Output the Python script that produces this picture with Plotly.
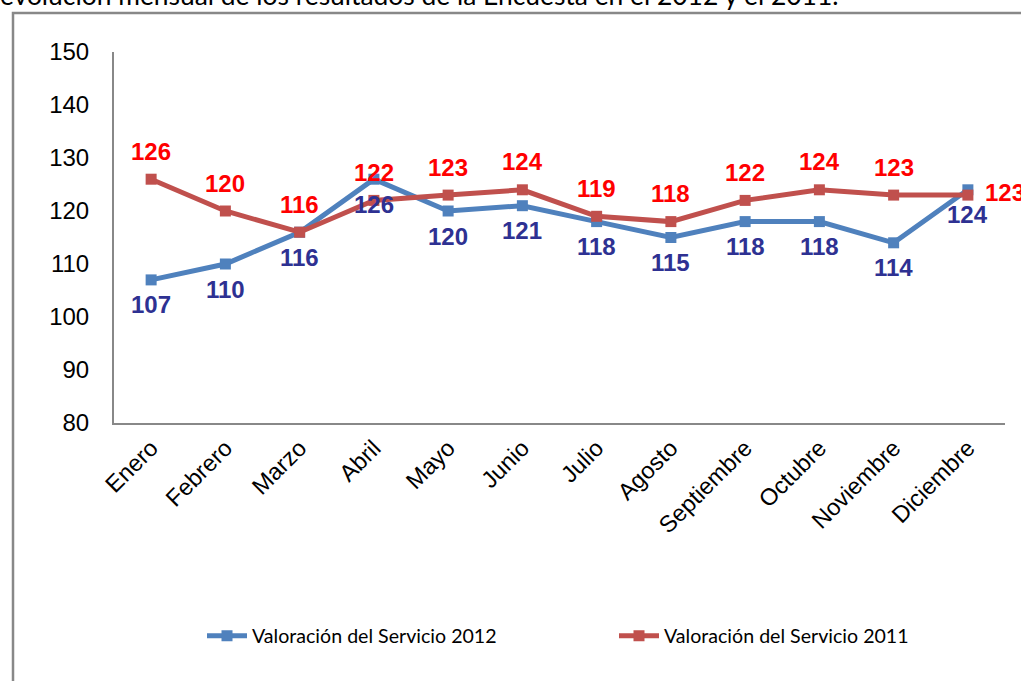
import plotly.graph_objects as go

months = ["Enero", "Febrero", "Marzo", "Abril", "Mayo", "Junio", "Julio",
          "Agosto", "Septiembre", "Octubre", "Noviembre", "Diciembre"]
serie_2012 = [107, 110, 116, 126, 120, 121, 118, 115, 118, 118, 114, 124]
serie_2011 = [126, 120, 116, 122, 123, 124, 119, 118, 122, 124, 123, 123]
name_2012 = "Valoración del Servicio 2012"
name_2011 = "Valoración del Servicio 2011"
title_text = "evolución mensual de los resultados de la Encuesta en el 2012 y el 2011."
y_ticks = [80, 90, 100, 110, 120, 130, 140, 150]

BLUE = "#4F81BD"
RED = "#C0504D"
LBL_BLUE = "#2E3192"
LBL_RED = "#FF0000"

W, H = 1021, 681
L, R, T, B = 114, 16, 52, 258
pw, ph = W - L - R, H - T - B

fig = go.Figure()
fig.add_trace(go.Scatter(x=months, y=serie_2012, name=name_2012, mode="lines+markers",
                         line=dict(color=BLUE, width=5),
                         marker=dict(symbol="square", size=11, color=BLUE)))
fig.add_trace(go.Scatter(x=months, y=serie_2011, name=name_2011, mode="lines+markers",
                         line=dict(color=RED, width=5),
                         marker=dict(symbol="square", size=11, color=RED)))

lblfont = dict(family="Arial, Liberation Sans", size=24)
annotations = []
for i, (m, v) in enumerate(zip(months, serie_2012)):
    annotations.append(dict(x=m, y=v, text=str(v), showarrow=False, yshift=-25,
                            font=dict(**lblfont, color=LBL_BLUE), xanchor="center", yanchor="middle"))
for i, (m, v) in enumerate(zip(months, serie_2011)):
    last = i == len(months) - 1
    annotations.append(dict(x=m, y=v, text=str(v), showarrow=False,
                            yshift=3 if last else 28, xshift=15 if last else 0,
                            xanchor="left" if last else "center", yanchor="middle",
                            font=dict(**lblfont, color=LBL_RED)))
for a in annotations:
    a["text"] = "<b>" + a["text"] + "</b>"

annotations.append(dict(xref="paper", yref="paper", x=(-2 - L) / pw, y=1 + (T + 5) / ph,
                        xanchor="left", yanchor="middle", showarrow=False,
                        text=title_text, font=dict(family="Lato", size=26.4, color="#000000")))

shapes = [dict(type="rect", xref="paper", yref="paper",
               x0=(13 - L) / pw, x1=(W + 40 - L) / pw,
               y0=-(H + 40 - T - ph) / ph, y1=1 + (T - 13) / ph,
               line=dict(color="#888888", width=2.5), fillcolor="rgba(0,0,0,0)", layer="below")]

fig.update_layout(
    width=W, height=H,
    margin=dict(l=L, r=R, t=T, b=B, autoexpand=False),
    paper_bgcolor="white", plot_bgcolor="white",
    showlegend=True,
    legend=dict(orientation="h", x=(202 - L) / pw, y=(T + ph - 636) / ph,
                xanchor="left", yanchor="middle",
                font=dict(family="Lato", size=19.6, color="#000000"),
                entrywidth=357, entrywidthmode="pixels", itemwidth=40,
                bgcolor="rgba(0,0,0,0)"),
    xaxis=dict(type="category", showgrid=False, showline=True, linecolor="#888888", linewidth=2,
               ticks="", tickangle=-45, tickfont=dict(family="Arial, Liberation Sans", size=23.5, color="#000000"),
               range=[-0.5, 11.5], automargin=False),
    yaxis=dict(range=[80, 150], tickvals=y_ticks, showgrid=False, showline=True, linecolor="#888888",
               linewidth=2, ticks="", ticklabelstandoff=18, automargin=False,
               tickfont=dict(family="Arial, Liberation Sans", size=24, color="#000000"), zeroline=False),
    annotations=annotations,
    shapes=shapes,
)

fig.write_html("out.html", config={"displayModeBar": False},
               post_script="document.body.style.margin='0px';")
